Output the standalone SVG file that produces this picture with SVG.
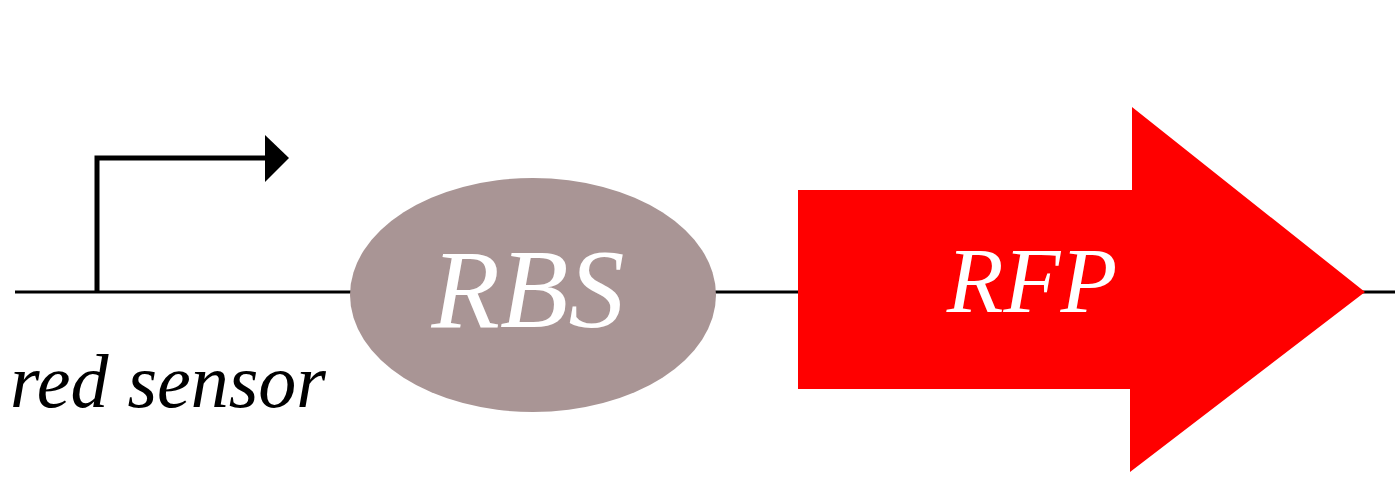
<svg xmlns="http://www.w3.org/2000/svg" width="1395" height="480" viewBox="0 0 1395 480">
<style>
.lbl{font-family:"Liberation Serif","DejaVu Serif",serif;font-style:italic}
</style>
<rect width="1395" height="480" fill="#fff"/>
<g id="connectors">
<line x1="15" y1="292" x2="1395" y2="292" stroke="#000" stroke-width="3"/>
</g>
<g id="promoter">
<polyline points="97,292 97,158 268,158" fill="none" stroke="#000" stroke-width="5"/>
<polygon points="265,135 289,158 265,182" fill="#000"/>
<text class="lbl" x="10" y="407" font-size="76" fill="#000">red sensor</text>
</g>
<g id="rbs">
<ellipse cx="533" cy="295" rx="183" ry="117" fill="#a99595"/>
<text class="lbl" x="528" y="327" font-size="112" fill="#fff" text-anchor="middle">RBS</text>
</g>
<g id="rfp">
<polygon points="798,190 1132,190 1132,107 1365,292 1130,472 1130,389 798,389" fill="#ff0000"/>
<text class="lbl" x="1032" y="312" font-size="93" fill="#fff" text-anchor="middle">RFP</text>
</g>
</svg>
